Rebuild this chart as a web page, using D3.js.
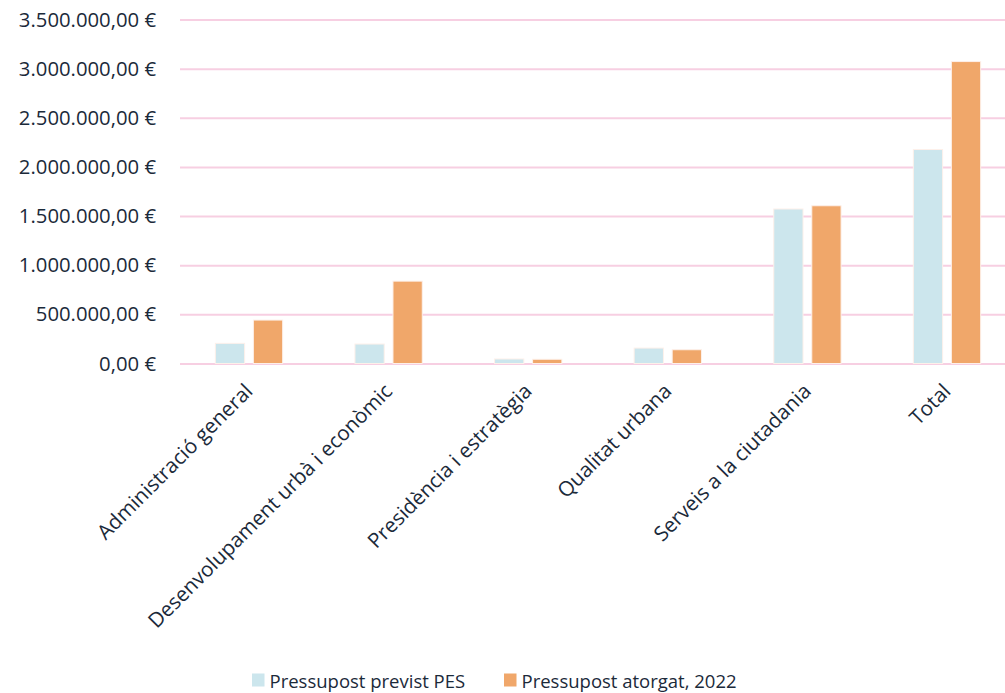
<!DOCTYPE html>
<html><head><meta charset="utf-8">
<script src="https://cdn.jsdelivr.net/npm/d3@7"></script>
<style>body{margin:0;background:#fff}text{font-family:"Open Sans",sans-serif;fill:#1b2a3a}</style>
</head><body><svg id="c" width="1005" height="693"></svg>
<script>
const categories = ["Administració general","Desenvolupament urbà i econòmic","Presidència i estratègia","Qualitat urbana","Serveis a la ciutadania","Total"];
const seriesNames = ["Pressupost previst PES","Pressupost atorgat, 2022"];
const previst = [205000, 198000, 46000, 157000, 1572000, 2177000];
const atorgat = [442000, 838000, 43000, 140000, 1605000, 3072000];
const yTicks = [0,500000,1000000,1500000,2000000,2500000,3000000,3500000];
const colors = ["#cce6ed","#f0a76a"];

const svg = d3.select("#c");
const x0 = d3.scaleBand().domain(categories).range([179.2,1016.8]).paddingInner(0).paddingOuter(0);
const x1 = d3.scaleBand().domain([0,1]).range([0,x0.bandwidth()]).paddingInner(0.23).paddingOuter(0.95);
const y = d3.scaleLinear().domain([0,3500000]).range([363.5,19.5]);
const fmt = v => d3.format(",.2f")(v).replace(/,/g,"#").replace(".",",").replace(/#/g,".") + " €";

const gy = svg.append("g").attr("transform","translate(180,0)")
  .call(d3.axisLeft(y).tickValues(yTicks).tickSize(-825).tickPadding(24).tickFormat(fmt));
gy.select(".domain").remove();
gy.selectAll(".tick line").attr("stroke","#f7cfe2").attr("stroke-width",2);
gy.selectAll(".tick text").attr("font-size",20.3).style("fill","#1b2a3a").style("font-family","'Open Sans',sans-serif");

const data = categories.map((c,i)=>({c, v:[previst[i], atorgat[i]]}));
const g = svg.append("g");
data.forEach(d=>{
  d.v.forEach((v,j)=>{
    g.append("rect")
      .attr("x", x0(d.c)+x1(j)).attr("width", x1.bandwidth())
      .attr("y", y(v)).attr("height", y(0)-y(v))
      .attr("fill", colors[j]).attr("stroke","#fdf0ea").attr("stroke-width",1);
  });
});

const gx = svg.append("g").attr("transform","translate(0,363.5)")
  .call(d3.axisBottom(x0).tickSize(0).tickPadding(0));
gx.select(".domain").remove();
gx.selectAll(".tick text")
  .attr("font-size",20.6).attr("text-anchor","end")
  .attr("dy",0).attr("y",0)
  .attr("transform","translate(5,29) rotate(-45)")
  .style("fill","#1b2a3a").style("font-family","'Open Sans',sans-serif");

const leg = svg.append("g");
const legX = [252, 504];
seriesNames.forEach((s,i)=>{
  leg.append("rect").attr("x",legX[i]).attr("y",673.5).attr("width",12.5).attr("height",13).attr("fill",colors[i]);
  leg.append("text").attr("x",legX[i]+17.5).attr("y",687.5).attr("font-size",18.5).text(s);
});
</script></body></html>
